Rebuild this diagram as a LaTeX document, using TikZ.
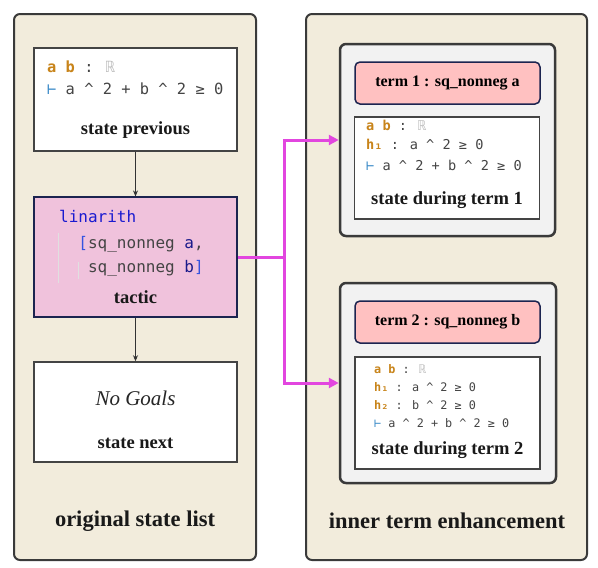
\documentclass[tikz,border=0pt]{standalone}
\usepackage{fontspec}
\setmainfont{Liberation Serif}
\newfontfamily\codefont{DejaVu Sans Mono}
\usetikzlibrary{arrows.meta,positioning}
\definecolor{paper}{HTML}{F2ECDC}
\definecolor{edge}{HTML}{3A3A3A}
\definecolor{cardgray}{HTML}{F2F2F2}
\definecolor{boxline}{HTML}{444444}
\definecolor{navy}{HTML}{1C2450}
\definecolor{tacpink}{HTML}{F0C2DC}
\definecolor{termpink}{HTML}{FFC1C1}
\definecolor{hook}{HTML}{E246DF}
\definecolor{hypo}{HTML}{C8841A}
\definecolor{turn}{HTML}{3B8BC8}
\definecolor{code}{HTML}{444444}
\definecolor{reals}{HTML}{BBBBBB}
\definecolor{kw}{HTML}{1A1AD0}
\definecolor{brk}{HTML}{3553E0}
\definecolor{var}{HTML}{1A1A8A}
\newcommand{\ab}{{\bfseries\color{hypo}a b} : {\color{reals}ℝ}}
\newcommand{\goal}{{\color{turn}⊢} a \^{} 2 + b \^{} 2 ≥ 0}

\begin{document}
\begin{tikzpicture}[x=1pt,y=-1pt,
  panel/.style={draw=edge,line width=2pt,rounded corners=6pt,fill=paper,inner sep=0pt},
  card/.style={draw=edge,line width=2.5pt,rounded corners=6pt,fill=cardgray,inner sep=0pt},
  statebox/.style={draw=boxline,line width=1.5pt,fill=white,inner sep=0pt,minimum width=203pt},
  tacbox/.style={draw=navy,line width=1.2pt,fill=tacpink,inner sep=0pt,minimum width=203pt,minimum height=120pt},
  termbox/.style={draw=navy,line width=1.5pt,rounded corners=5pt,fill=termpink,inner sep=0pt,minimum width=185pt,minimum height=42pt,font=\fontsize{16}{19}\selectfont\bfseries},
  lab/.style={font=\fontsize{18.5}{22}\selectfont\bfseries,text=black!90},
  title/.style={font=\fontsize{22.5}{26}\selectfont\bfseries,text=black!90},
  line/.style={anchor=west,inner sep=0pt,text=code,text height=0.75em,text depth=0.25em},
  flow/.style={-{Stealth[length=6pt,width=5pt]},draw=black!80,line width=0.8pt},
  jump/.style={-{Triangle[length=10pt,width=10pt]},draw=hook,line width=3pt},
  guide/.style={draw=black!12,line width=0.8pt}]
\useasboundingbox (0,0) rectangle (598,568);

% left panel
\node[panel,minimum width=242pt,minimum height=546pt] (left) at (135,287) {};
\node[statebox,minimum height=103pt] (prev) at (135.5,99.5) {};
\node[line,font=\codefont\fontsize{15.4}{22}\selectfont] (prev1) at (47,70) {\ab};
\node[line,font=\codefont\fontsize{15.4}{22}\selectfont] (prev2) at (47,92) {\goal};
\node[lab] (prevlab) at (135.5,130) {state previous};

\node[tacbox] (tac) at (135.5,257) {};
\draw[guide] (58,233) -- (58,283);
\draw[guide] (78,262) -- (78,279);
\node[line,font=\codefont\fontsize{16}{24}\selectfont] (tac1) at (59,220) {\color{kw}linarith};
\node[line,font=\codefont\fontsize{16}{24}\selectfont] (tac2) at (59,246) {\ \ {\color{brk}[}sq\_nonneg {\color{var}a},};
\node[line,font=\codefont\fontsize{16}{24}\selectfont] (tac3) at (59,270) {\ \ \ sq\_nonneg {\color{var}b}{\color{brk}]}};
\node[lab] (taclab) at (135.5,297) {tactic};

\node[statebox,minimum height=100pt] (next) at (135.5,412) {};
\node[font=\fontsize{21}{24}\selectfont\itshape,text=black!85] (nogoal) at (135.5,398) {No Goals};
\node[lab] (nextlab) at (135.5,443) {state next};

\draw[flow] (prev.south) -- (tac.north);
\draw[flow] (tac.south) -- (next.north);
\node[title] (lefttitle) at (135,521) {original state list};

% right panel
\node[panel,minimum width=281pt,minimum height=546pt] (right) at (446.5,287) {};

\node[card,minimum width=215pt,minimum height=192pt] (card1) at (447.5,140) {};
\node[termbox] (term1) at (447.5,83) {term 1 : sq\_nonneg a};
\node[statebox,minimum width=185pt,minimum height=102pt] (dur1) at (447,168) {};
\node[line,font=\codefont\fontsize{13.6}{20}\selectfont] (dur1a) at (366,128) {\ab};
\node[line,font=\codefont\fontsize{13.6}{20}\selectfont] (dur1b) at (366,147) {{\bfseries\color{hypo}h₁} : a \^{} 2 ≥ 0};
\node[line,font=\codefont\fontsize{13.6}{20}\selectfont] (dur1c) at (366,168) {\goal};
\node[lab] (dur1lab) at (447,200) {state during term 1};

\node[card,minimum width=216pt,minimum height=200pt] (card2) at (448,383) {};
\node[termbox] (term2) at (447.5,322) {term 2 : sq\_nonneg b};
\node[statebox,minimum width=185pt,minimum height=112pt] (dur2) at (447.5,413) {};
\node[line,font=\codefont\fontsize{11.8}{18}\selectfont] (dur2a) at (374,371) {\ab};
\node[line,font=\codefont\fontsize{11.8}{18}\selectfont] (dur2b) at (374,389) {{\bfseries\color{hypo}h₁} : a \^{} 2 ≥ 0};
\node[line,font=\codefont\fontsize{11.8}{18}\selectfont] (dur2c) at (374,407) {{\bfseries\color{hypo}h₂} : b \^{} 2 ≥ 0};
\node[line,font=\codefont\fontsize{11.8}{18}\selectfont] (dur2d) at (374,425) {\goal};
\node[lab] (dur2lab) at (447.5,450) {state during term 2};
\node[title] (righttitle) at (447,521) {inner term enhancement};

% hooks into the terms
\coordinate (bus) at (284,257);
\draw[jump] (tac.east) -- (bus) |- (card1.west);
\draw[jump] (bus) |- (card2.west);
\end{tikzpicture}
\end{document}
